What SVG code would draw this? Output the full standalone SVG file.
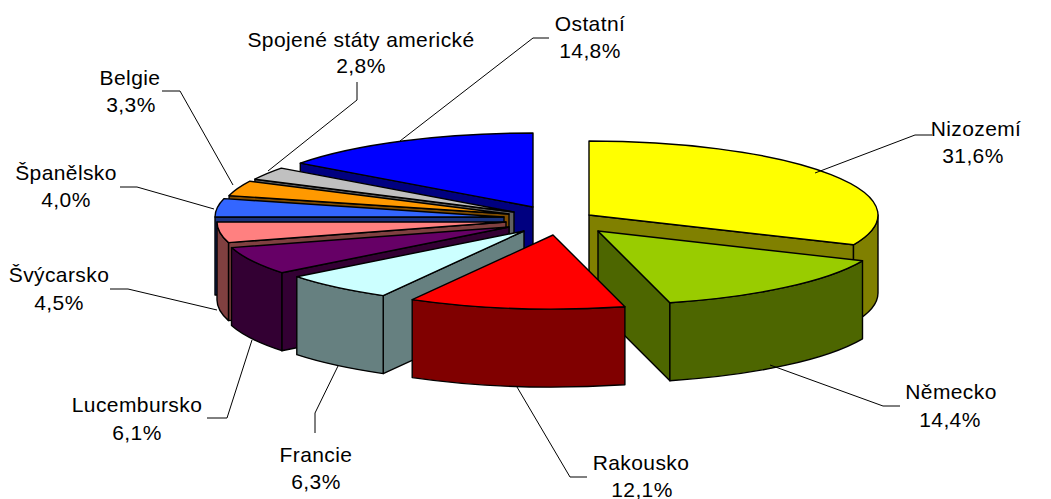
<svg xmlns="http://www.w3.org/2000/svg" width="1051" height="499" viewBox="0 0 1051 499">
<style>
.f{stroke:#000;stroke-width:1.4;stroke-linejoin:round}
.lbl{font-family:"Liberation Sans",Arial,sans-serif;font-size:21px;letter-spacing:0.4px;text-anchor:middle;fill:#000}
.ld{fill:none;stroke:#000;stroke-width:1}
</style>
<rect width="1051" height="499" fill="#fff"/>
<g id="ostatni">
<path class="f" fill="#000080" d="M533,207 L300.3,163.1 L300.3,241.1 L533,285 Z"/>
<path class="f" fill="#0000FF" d="M533,207 L300.3,163.1 A289,74 0 0,1 533,133 Z"/>
<text class="lbl" x="590" y="31">Ostatní</text>
<text class="lbl" x="590" y="58">14,8%</text>
</g>
<g id="spojene-staty">
<path class="f" fill="#606060" d="M514,212 L254.9,179.2 L254.9,257.2 L514,290 Z"/>
<path class="f" fill="#C0C0C0" d="M514,212 L254.9,179.2 A289,74 0 0,1 281.3,168.1 Z"/>
<text class="lbl" x="361" y="47">Spojené státy americké</text>
<text class="lbl" x="361" y="73">2,8%</text>
</g>
<g id="belgie">
<path class="f" fill="#804D00" d="M509,214 L229.1,195.6 L229.1,273.6 L509,292 Z"/>
<path class="f" fill="#FF9900" d="M509,214 L229.1,195.6 A289,74 0 0,1 249.9,181.2 Z"/>
<text class="lbl" x="130" y="85">Belgie</text>
<text class="lbl" x="131" y="112">3,3%</text>
</g>
<g id="spanelsko">
<path class="f" fill="#1A3380" d="M504,217 L215,217 L215,295 L504,295 Z"/>
<path class="f" fill="#3366FF" d="M504,217 L215,217 A289,74 0 0,1 224.1,198.6 Z"/>
<text class="lbl" x="66" y="180">Španělsko</text>
<text class="lbl" x="66" y="207">4,0%</text>
</g>
<g id="svycarsko">
<path class="f" fill="#804040" d="M506,222 L228.5,242.6 L228.5,320.6 L506,300 Z"/>
<path class="f" fill="#804040" d="M228.5,242.6 A289,74 0 0,1 217,222 L217,300 A289,74 0 0,0 228.5,320.6 Z"/>
<path class="f" fill="#FF8080" d="M506,222 L228.5,242.6 A289,74 0 0,1 217,222 Z"/>
<text class="lbl" x="59" y="282">Švýcarsko</text>
<text class="lbl" x="59" y="310">4,5%</text>
</g>
<g id="lucembursko">
<path class="f" fill="#330033" d="M509,227 L281.8,272.7 L281.8,350.7 L509,305 Z"/>
<path class="f" fill="#330033" d="M281.8,272.7 A289,74 0 0,1 231.5,247.6 L231.5,325.6 A289,74 0 0,0 281.8,350.7 Z"/>
<path class="f" fill="#660066" d="M509,227 L281.8,272.7 A289,74 0 0,1 231.5,247.6 Z"/>
<text class="lbl" x="137" y="412">Lucembursko</text>
<text class="lbl" x="137" y="440">6,1%</text>
</g>
<g id="francie">
<path class="f" fill="#668080" d="M524,231 L383.2,295.6 L383.2,373.6 L524,309 Z"/>
<path class="f" fill="#668080" d="M383.2,295.6 A289,74 0 0,1 296.8,276.7 L296.8,354.7 A289,74 0 0,0 383.2,373.6 Z"/>
<path class="f" fill="#CCFFFF" d="M524,231 L383.2,295.6 A289,74 0 0,1 296.8,276.7 Z"/>
<text class="lbl" x="316" y="462">Francie</text>
<text class="lbl" x="316" y="489">6,3%</text>
</g>
<g id="nizozemi">
<path class="f" fill="#808000" d="M589,215 L853.5,244.8 L853.5,322.8 L589,293 Z"/>
<path class="f" fill="#808000" d="M878,215 A289,74 0 0,1 853.5,244.8 L853.5,322.8 A289,74 0 0,0 878,293 Z"/>
<path class="f" fill="#FFFF00" d="M589,215 L589,141 A289,74 0 0,1 853.5,244.8 Z"/>
<text class="lbl" x="976" y="136">Nizozemí</text>
<text class="lbl" x="973" y="163">31,6%</text>
</g>
<g id="nemecko">
<path class="f" fill="#4D6600" d="M598,231 L669.9,302.7 L669.9,380.7 L598,309 Z"/>
<path class="f" fill="#4D6600" d="M862.5,260.8 A289,74 0 0,1 669.9,302.7 L669.9,380.7 A289,74 0 0,0 862.5,338.8 Z"/>
<path class="f" fill="#99CC00" d="M598,231 L862.5,260.8 A289,74 0 0,1 669.9,302.7 Z"/>
<text class="lbl" x="951" y="399">Německo</text>
<text class="lbl" x="950" y="427">14,4%</text>
</g>
<g id="rakousko">
<path class="f" fill="#800000" d="M624.9,306.7 A289,74 0 0,1 412.2,299.6 L412.2,377.6 A289,74 0 0,0 624.9,384.7 Z"/>
<path class="f" fill="#FF0000" d="M553,235 L624.9,306.7 A289,74 0 0,1 412.2,299.6 Z"/>
<text class="lbl" x="641" y="470">Rakousko</text>
<text class="lbl" x="642" y="497">12,1%</text>
</g>
<g id="connectors">
<polyline class="ld" points="400,141 533,38 549,38"/>
<polyline class="ld" points="268,171 357,100 357,82"/>
<polyline class="ld" points="233,185 180,91 162,91"/>
<polyline class="ld" points="214,209 137,187 120,187"/>
<polyline class="ld" points="217,310 128,289 110,289"/>
<polyline class="ld" points="252,340 227,418 207,418"/>
<polyline class="ld" points="338,366 315,413 315,433"/>
<polyline class="ld" points="517,387 570,477 587,477"/>
<polyline class="ld" points="770,365 883,406 900,406"/>
<polyline class="ld" points="815,173 915,135 932,135"/>
</g>
</svg>
